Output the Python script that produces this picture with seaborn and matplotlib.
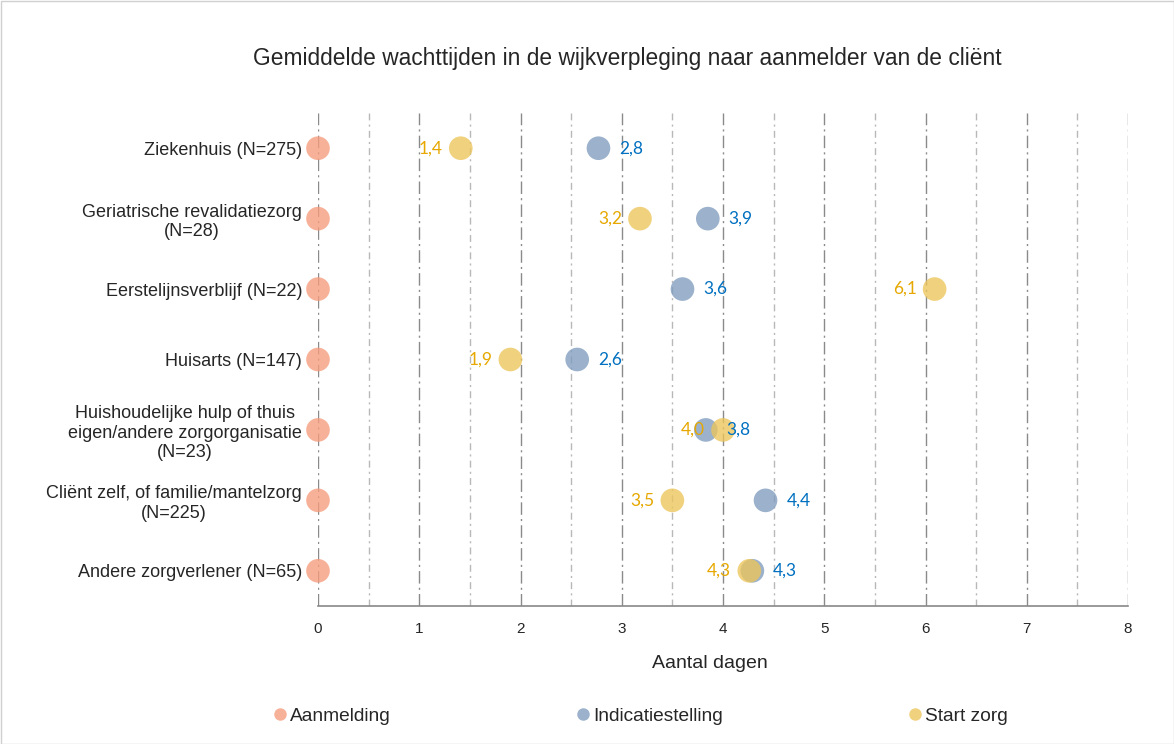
import matplotlib
matplotlib.use("Agg")
import matplotlib.pyplot as plt
import seaborn as sns
import pandas as pd
import numpy as np
from matplotlib.patches import Rectangle
from matplotlib.lines import Line2D

categories = [
    "Ziekenhuis (N=275)",
    "Geriatrische revalidatiezorg\n(N=28)",
    "Eerstelijnsverblijf (N=22)",
    "Huisarts (N=147)",
    "Huishoudelijke hulp of thuis\neigen/andere zorgorganisatie\n(N=23)",
    "Cliënt zelf, of familie/mantelzorg\n(N=225)",
    "Andere zorgverlener (N=65)",
]
aanmelding = [0, 0, 0, 0, 0, 0, 0]
indicatiestelling = [2.77, 3.85, 3.6, 2.56, 3.83, 4.42, 4.29]
start_zorg = [1.41, 3.18, 6.09, 1.9, 4.0, 3.5, 4.26]
series_names = ["Aanmelding", "Indicatiestelling", "Start zorg"]
xticks = [0, 1, 2, 3, 4, 5, 6, 7, 8]

colors = {"Aanmelding": "#F69C7C", "Indicatiestelling": "#7F9CBE", "Start zorg": "#EDC55A"}
label_colors = {"Indicatiestelling": "#0070C0", "Start zorg": "#E6A800"}

rows = []
for name, vals in zip(series_names, [aanmelding, indicatiestelling, start_zorg]):
    for c, v in zip(categories, vals):
        rows.append({"cat": c, "val": v, "serie": name})
df = pd.DataFrame(rows)
df["pos"] = df["cat"].map({c: i for i, c in enumerate(categories)})

sns.set_style("white")
plt.rcParams["font.family"] = ["Liberation Sans", "DejaVu Sans"]

fig = plt.figure(figsize=(11.74, 7.44), dpi=100)
ax = fig.add_axes([318/1174, 1-606/744, (1128-318)/1174, (606-113)/744])

sns.scatterplot(data=df, x="val", y="pos", hue="serie", hue_order=series_names,
                palette=colors, s=290, alpha=0.78, edgecolor="none", ax=ax,
                legend=False, zorder=3, clip_on=False)

ax.set_xlim(0, 8)
ax.set_ylim(6.5, -0.5)
ax.set_yticks(range(len(categories)))
ax.set_yticklabels(categories, fontsize=13, ha="right", multialignment="center")
ax.tick_params(axis="y", length=0, pad=11.5)
ax.set_xticks(xticks)
ax.set_xticklabels([str(t) for t in xticks], fontsize=11)
ax.set_xticks(np.arange(0.5, 8, 1.0), minor=True)
ax.tick_params(axis="x", which="major", direction="inout", length=7, color="#888888", width=1, pad=8)
ax.tick_params(axis="x", which="minor", length=0)

for sp in ["left", "right", "top"]:
    ax.spines[sp].set_visible(False)
ax.spines["bottom"].set_color("#888888")
ax.spines["bottom"].set_linewidth(1.2)

ax.grid(False)
for x in xticks:
    ax.axvline(x, color="#8a8a8a", lw=1, linestyle=(0, (9, 3, 1.5, 3)), zorder=1)
for x in np.arange(0.5, 8, 1.0):
    ax.axvline(x, color="#b8b8b8", lw=1, linestyle=(0, (5, 3, 1.5, 3)), zorder=1)

lab_font = ["Lato", "DejaVu Sans"]
for i, v in enumerate(indicatiestelling):
    ax.annotate(f"{v:.1f}".replace(".", ","), (v, i), xytext=(15, 0), textcoords="offset points",
                ha="left", va="center", color=label_colors["Indicatiestelling"], fontsize=12.5,
                family=lab_font, zorder=4)
for i, v in enumerate(start_zorg):
    ax.annotate(f"{v:.1f}".replace(".", ","), (v, i), xytext=(-13, 0), textcoords="offset points",
                ha="right", va="center", color=label_colors["Start zorg"], fontsize=12.5,
                family=lab_font, zorder=4)

ax.set_xlabel("Aantal dagen", fontsize=14)
ax.xaxis.set_label_coords((710-318)/810, -(663-606)/493, transform=ax.transAxes)
ax.xaxis.label.set_va("center")
ax.set_ylabel("")

fig.text(627/1174, 1-58/744, "Gemiddelde wachttijden in de wijkverpleging naar aanmelder van de cliënt",
         ha="center", va="center", fontsize=16.4)

handles = [Line2D([], [], marker="o", linestyle="none", markersize=9, markerfacecolor=colors[n],
                  markeredgecolor="none", alpha=0.78) for n in series_names]
fig.legend(handles, series_names, loc="center", bbox_to_anchor=(640/1174, 1-716/744), ncol=3,
           frameon=False, handletextpad=0.15, columnspacing=9.6, handlelength=0.8,
           prop={"size": 13.8})

fig.patches.append(Rectangle((0.5/1174, 0.5/744), 1-1/1174, 1-1/744, transform=fig.transFigure,
                             fill=False, edgecolor="#d0d0d0", lw=1))

fig.savefig("out.png", dpi=100)
